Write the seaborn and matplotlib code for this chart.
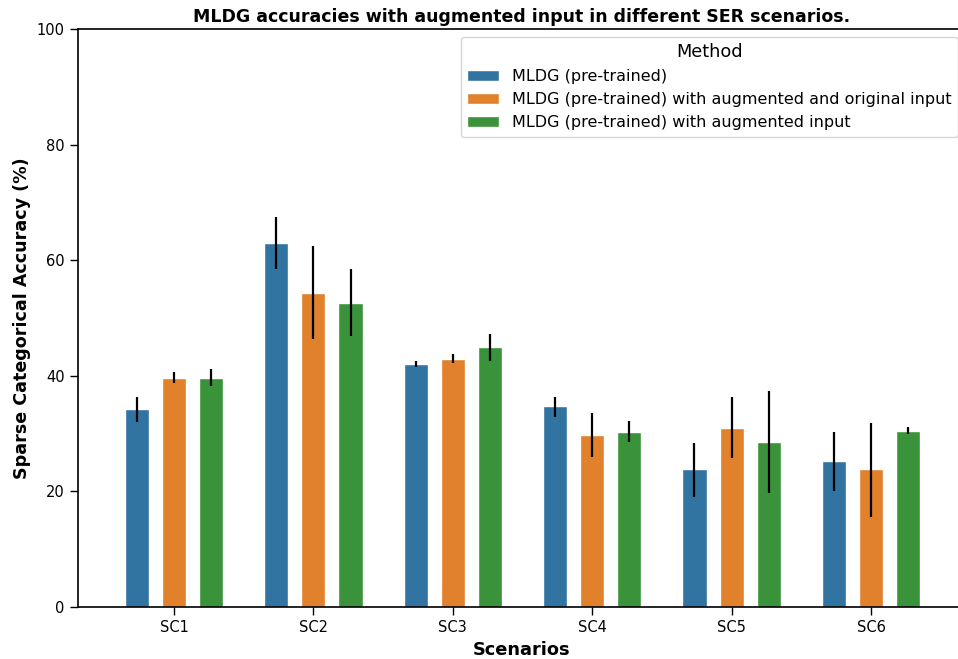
import matplotlib
matplotlib.use("Agg")
import matplotlib.pyplot as plt
import seaborn as sns
import pandas as pd
import numpy as np

scenarios = ["SC1", "SC2", "SC3", "SC4", "SC5", "SC6"]
methods = [
    "MLDG (pre-trained)",
    "MLDG (pre-trained) with augmented and original input",
    "MLDG (pre-trained) with augmented input",
]
# mean accuracy per scenario for each method
acc_pretrained = [34.2, 62.9, 42.0, 34.7, 23.8, 25.3]
acc_aug_orig = [39.7, 54.4, 42.9, 29.7, 31.0, 23.8]
acc_aug = [39.7, 52.6, 44.9, 30.3, 28.5, 30.4]
# lower / upper ends of the error interval
low_pretrained = [32.0, 58.4, 41.5, 32.9, 19.1, 20.1]
high_pretrained = [36.3, 67.4, 42.5, 36.4, 28.4, 30.3]
low_aug_orig = [38.8, 46.3, 42.2, 26.0, 25.7, 15.6]
high_aug_orig = [40.6, 62.5, 43.8, 33.5, 36.3, 31.9]
low_aug = [38.2, 46.9, 42.5, 28.6, 19.8, 29.9]
high_aug = [41.1, 58.4, 47.3, 32.1, 37.3, 31.1]

means = [acc_pretrained, acc_aug_orig, acc_aug]
lows = [low_pretrained, low_aug_orig, low_aug]
highs = [high_pretrained, high_aug_orig, high_aug]

rows = []
for m, vals, lo, hi in zip(methods, means, lows, highs):
    for sc, v, l, h in zip(scenarios, vals, lo, hi):
        rows.append({"Scenarios": sc, "Method": m, "Accuracy": v, "low": l, "high": h})
df = pd.DataFrame(rows)

sns.set_style("ticks")
plt.rcParams["font.family"] = ["DejaVu Sans"]
for k in ["text.color", "axes.labelcolor", "xtick.color", "ytick.color"]:
    plt.rcParams[k] = "black"

fig = plt.figure(figsize=(9.58, 6.59), dpi=100)
ax = fig.add_axes([78 / 958, 52 / 659, 888 / 958, 578 / 659])

sns.barplot(data=df, x="Scenarios", y="Accuracy", hue="Method",
            hue_order=methods, order=scenarios, errorbar=None,
            palette="tab10", gap=0.35, ax=ax)

# asymmetric error bars on top of each bar
for container, m in zip(ax.containers, methods):
    sub = df[df["Method"] == m].set_index("Scenarios").loc[scenarios]
    xs = [p.get_x() + p.get_width() / 2 for p in container.patches]
    ys = sub["Accuracy"].to_numpy()
    yerr = np.vstack([ys - sub["low"].to_numpy(), sub["high"].to_numpy() - ys])
    ax.errorbar(xs, ys, yerr=yerr, fmt="none", ecolor="black", elinewidth=1.6,
                capsize=0, zorder=5)

ax.set_xlim(-96 / 139.4, (966 - 174) / 139.4)
ax.set_ylim(0, 100)
ax.set_yticks([0, 20, 40, 60, 80, 100])
ax.set_xlabel("Scenarios", fontsize=12.8, fontweight="bold")
ax.set_ylabel("Sparse Categorical Accuracy (%)", fontsize=12.6, fontweight="bold")
ax.set_title("MLDG accuracies with augmented input in different SER scenarios.",
             fontsize=12.5, fontweight="bold", pad=5)
ax.tick_params(labelsize=10.5, length=6, width=1.0)
for s in ["left", "bottom", "top", "right"]:
    ax.spines[s].set_linewidth(1.2)
    ax.spines[s].set_color("black")

leg = ax.legend(title="Method", loc="upper right", fontsize=11.5, title_fontsize=12.8,
                frameon=True, borderaxespad=0.5, handlelength=2.0)

fig.savefig("out.png", dpi=100)
